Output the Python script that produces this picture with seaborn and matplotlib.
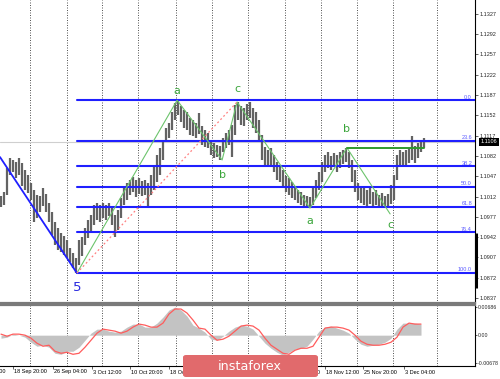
import matplotlib
matplotlib.use("Agg")
import numpy as np
import pandas as pd
import matplotlib.pyplot as plt
import matplotlib.transforms as mtransforms
from matplotlib.patches import FancyBboxPatch
import seaborn as sns

# --- EURUSD H4 price bars (high / low) ---
bar_high = [1.1013, 1.1020, 1.1061, 1.1078, 1.1075, 1.1071, 1.1078, 1.1070, 1.1058, 1.1049,
            1.1035, 1.1023, 1.1015, 1.1013, 1.1027, 1.1016, 1.1001, 1.0985, 1.0968, 1.0958,
            1.0949, 1.0944, 1.0937, 1.0923, 1.0915, 1.0906, 1.0937, 1.0942, 1.0958, 1.0971,
            1.0980, 1.0997, 1.1001, 1.0997, 1.1001, 1.0997, 1.1001, 1.0992, 1.0980, 1.0989,
            1.1009, 1.1027, 1.1035, 1.1040, 1.1046, 1.1040, 1.1044, 1.1039, 1.1040, 1.1035,
            1.1049, 1.1066, 1.1084, 1.1096, 1.1109, 1.1130, 1.1139, 1.1158, 1.1173, 1.1178,
            1.1168, 1.1161, 1.1158, 1.1147, 1.1144, 1.1139, 1.1156, 1.1134, 1.1127, 1.1121,
            1.1109, 1.1104, 1.1101, 1.1099, 1.1113, 1.1121, 1.1127, 1.1135, 1.1170, 1.1175,
            1.1168, 1.1165, 1.1171, 1.1175, 1.1165, 1.1158, 1.1144, 1.1118, 1.1097, 1.1092,
            1.1096, 1.1084, 1.1071, 1.1066, 1.1058, 1.1047, 1.1044, 1.1037, 1.1030, 1.1023,
            1.1020, 1.1015, 1.1013, 1.1011, 1.1027, 1.1040, 1.1054, 1.1071, 1.1084, 1.1089,
            1.1082, 1.1087, 1.1084, 1.1089, 1.1092, 1.1096, 1.1089, 1.1075, 1.1058, 1.1035,
            1.1030, 1.1027, 1.1023, 1.1027, 1.1020, 1.1023, 1.1015, 1.1018, 1.1013, 1.1016,
            1.1032, 1.1049, 1.1084, 1.1092, 1.1089, 1.1092, 1.1096, 1.1116, 1.1099, 1.1104,
            1.1109, 1.1113]
bar_low = [1.0994, 1.0997, 1.1015, 1.1049, 1.1054, 1.1044, 1.1049, 1.1030, 1.1023, 1.1018,
           1.1006, 1.0968, 1.0975, 1.0985, 1.0996, 1.0985, 1.0968, 1.0946, 1.0929, 1.0920,
           1.0916, 1.0911, 1.0906, 1.0899, 1.0889, 1.0880, 1.0894, 1.0909, 1.0929, 1.0940,
           1.0951, 1.0963, 1.0971, 1.0968, 1.0975, 1.0971, 1.0978, 1.0963, 1.0942, 1.0954,
           1.0975, 1.0997, 1.1006, 1.1015, 1.1020, 1.1011, 1.1016, 1.1013, 1.1015, 1.0994,
           1.1015, 1.1023, 1.1037, 1.1049, 1.1075, 1.1106, 1.1113, 1.1127, 1.1144, 1.1153,
           1.1140, 1.1130, 1.1127, 1.1118, 1.1116, 1.1113, 1.1120, 1.1101, 1.1097, 1.1096,
           1.1084, 1.1078, 1.1080, 1.1075, 1.1089, 1.1096, 1.1101, 1.1080, 1.1118, 1.1144,
           1.1135, 1.1134, 1.1144, 1.1147, 1.1130, 1.1121, 1.1109, 1.1075, 1.1066, 1.1063,
           1.1066, 1.1054, 1.1040, 1.1037, 1.1030, 1.1020, 1.1015, 1.1009, 1.1006, 1.1001,
           1.0997, 1.0996, 1.0994, 1.0992, 1.0997, 1.1009, 1.1023, 1.1037, 1.1054, 1.1061,
           1.1058, 1.1063, 1.1054, 1.1061, 1.1068, 1.1071, 1.1061, 1.1037, 1.1020, 1.1006,
           1.1001, 1.0997, 1.0996, 1.0999, 1.0994, 1.0997, 1.0992, 1.0996, 1.0992, 1.0992,
           1.0999, 1.1006, 1.1040, 1.1066, 1.1063, 1.1066, 1.1070, 1.1075, 1.1070, 1.1078,
           1.1089, 1.1096]
last_price = 1.1106

# --- wave marking ---
wave_bar = [25.3, 58.7, 73.7, 78.7, 103.0, 115.3, 129.7]
wave_price = [1.0880, 1.1178, 1.1075, 1.1175, 1.0992, 1.1096, 1.0982]
wave_name = ["5", "a", "b", "c", "a", "b", "c"]
lead_in_bar = -0.33
lead_in_price = 1.1080

# --- fibonacci retracement ---
fib_price = [1.1178, 1.1108, 1.1064, 1.1029, 1.0994, 1.0950, 1.0880]
fib_name = ["0.0", "23.6", "38.2", "50.0", "61.8", "76.4", "100.0"]

price_ticks = [1.0837, 1.0872, 1.0907, 1.0942, 1.0977, 1.1012, 1.1047, 1.1082,
               1.1117, 1.1152, 1.1187, 1.1222, 1.1257, 1.1292, 1.1327]

# --- oscillator (every second bar) ---
osc_hist = [-0.00074, -0.00049, 0.00025, 0.0, -0.00049, -0.00172, -0.00270, -0.00245, -0.00294, -0.00441,
            -0.00466, -0.00392, -0.00392, -0.00294, -0.00123, 0.00049, 0.00147, 0.00147, 0.00098, 0.00074,
            0.00098, 0.00196, 0.00270, 0.00270, 0.00196, 0.00196, 0.00294, 0.00441, 0.00613, 0.00686,
            0.00613, 0.00466, 0.00245, 0.00172, 0.00074, -0.00098, -0.00123, -0.00025, 0.00098, 0.00196,
            0.00245, 0.00221, 0.00147, -0.00025, -0.00196, -0.00319, -0.00417, -0.00490, -0.00417, -0.00343,
            -0.00319, -0.00270, -0.00098, 0.00098, 0.00196, 0.00221, 0.00172, 0.00123, 0.00049, -0.00098,
            -0.00221, -0.00270, -0.00245, -0.00221, -0.00172, -0.00074, 0.00147, 0.00294, 0.00294, 0.00294,
            0.00270]
osc_signal = [0.00025, -0.00025, 0.00025, 0.00025, 0.0, -0.00074, -0.00196, -0.00270, -0.00245, -0.00392,
              -0.00441, -0.00417, -0.00466, -0.00441, -0.00294, -0.00123, 0.00049, 0.00147, 0.00123, 0.00098,
              0.00049, 0.00098, 0.00196, 0.00270, 0.00245, 0.00196, 0.00196, 0.00294, 0.00515, 0.00637,
              0.00637, 0.00539, 0.00368, 0.00172, 0.00147, 0.0, -0.00123, -0.00098, -0.00025, 0.00098,
              0.00221, 0.00245, 0.00221, 0.00123, -0.00074, -0.00245, -0.00343, -0.00441, -0.00466, -0.00368,
              -0.00319, -0.00319, -0.00270, -0.00049, 0.00172, 0.00196, 0.00196, 0.00172, 0.00123, 0.0,
              -0.00147, -0.00221, -0.00245, -0.00245, -0.00221, -0.00172, -0.00049, 0.00196, 0.00294, 0.00270,
              0.00270]
osc_ticks = [0.00686, 0.0, -0.00678]
osc_tick_labels = ["0.00686", "0.00", "-0.00678"]

# --- time axis (labels under the badge are not drawn) ---
time_labels = ["11 Sep 12:00", "18 Sep 20:00", "26 Sep 04:00", "3 Oct 12:00", "10 Oct 20:00",
               "18 Oct 04:00", "11 Nov 04:00", "18 Nov 12:00", "25 Nov 20:00", "3 Dec 04:00"]
time_label_bar = [-9.7, 4.0, 17.3, 30.3, 43.0, 56.0, 95.0, 108.0, 120.7, 134.3]
grid_bar = [9.67, 22.0, 33.67, 45.67, 58.33, 70.33, 82.33, 94.67, 106.67, 118.67, 130.67, 145.33]

bars = np.arange(len(bar_high))
osc_bar = bars[::2]

# --- style ---
sns.set_style("white")
plt.rcParams["font.family"] = ["Liberation Sans", "DejaVu Sans"]

fig = plt.figure(figsize=(5, 3.79), dpi=100)
ax = fig.add_axes([0, 1 - 303 / 379, 475 / 500, 303 / 379])
ax2 = fig.add_axes([0, 1 - 366 / 379, 475 / 500, 61 / 379])

x_lim = (-1 / 3, 158)
grid_style = dict(color="#3a3a3a", lw=0.6, ls=(0, (1.2, 1.8)), zorder=0)
for g in grid_bar:
    ax.axvline(g, **grid_style)
    ax2.axvline(g, **grid_style)

# --- main panel ---
ax.axhline(last_price, color="#cfcfcf", lw=0.8, zorder=1)
ax.vlines(bars, bar_low, bar_high, color="#636363", lw=1.6, zorder=2)

for lvl, name in zip(fib_price, fib_name):
    ax.plot([wave_bar[0], x_lim[1]], [lvl, lvl], color="#1f1fff", lw=1.5, zorder=3)
    ax.text(157, lvl + 0.00012, name, ha="right", va="bottom", fontsize=4, color="#5a5aff", zorder=6)

waves = pd.DataFrame({"bar": wave_bar, "price": wave_price})
sns.lineplot(data=waves, x="bar", y="price", sort=False, color="#6cc46c", lw=0.8, ax=ax, zorder=4)
ax.plot([lead_in_bar, wave_bar[0]], [lead_in_price, wave_price[0]], color="#1f1fff", lw=1.3, zorder=4)
ax.plot([wave_bar[0], wave_bar[3]], [wave_price[0], wave_price[3]],
        color="#ff8080", lw=0.9, ls=(0, (1.5, 2)), zorder=4)
ax.plot([wave_bar[5], bars[-1]], [wave_price[5], wave_price[5]], color="#2f9a2f", lw=1.4, zorder=5)

label_dy = [-14, 9, -15, 13, -13, 19, -11]
for b, p, n, dy in zip(wave_bar, wave_price, wave_name, label_dy):
    is_five = n == "5"
    ax.annotate(n, (b, p), xytext=(0, dy), textcoords="offset pixels", ha="center", va="center",
                fontsize=9.5 if is_five else 8, color="#2a2ae0" if is_five else "#3aa53a",
                family="DejaVu Sans", zorder=6)

ax.set_xlim(*x_lim)
ax.set_ylim(1.08284, 1.13508)
ax.yaxis.tick_right()
ax.set_yticks(price_ticks)
ax.set_yticklabels([f"{v:.4f}" for v in price_ticks])
ax.tick_params(axis="y", labelsize=4, length=2, width=0.5, pad=1.5, right=True, left=False)
ax.set_xticks([])
ax.set_xlabel("")
ax.set_ylabel("")
ax.spines["top"].set_visible(False)
ax.spines["left"].set_visible(False)
ax.spines["bottom"].set_color("#7a7a7a")
ax.spines["bottom"].set_linewidth(1.6)
ax.spines["right"].set_color("black")
ax.spines["right"].set_linewidth(0.8)

# current price box and scroll marker
price_tr = mtransforms.blended_transform_factory(ax.transAxes, ax.transData)
ax.text(1.012, last_price, f"{last_price:.4f}", transform=price_tr, ha="left", va="center",
        fontsize=4, color="white", bbox=dict(facecolor="black", edgecolor="none", pad=1.2), zorder=7)
ax.plot([1.002, 1.002], [0.05, 0.231], transform=ax.transAxes, color="black", lw=2.2,
        clip_on=False, solid_capstyle="butt")

# --- oscillator panel ---
ax2.fill_between(osc_bar, 0, osc_hist, color="#c3c3c3", lw=0, zorder=1)
sns.lineplot(x=osc_bar, y=osc_signal, color="#ff5c5c", lw=0.9, ax=ax2, zorder=2)
ax2.set_xlim(*x_lim)
ax2.set_ylim(-0.00751, 0.00735)
ax2.yaxis.tick_right()
ax2.set_yticks(osc_ticks)
ax2.set_yticklabels(osc_tick_labels)
ax2.tick_params(axis="y", labelsize=3.8, length=1.5, width=0.5, pad=0.8, right=True, left=False)
ax2.set_xticks([t for t in time_label_bar if t > x_lim[0]])
ax2.set_xticklabels([])
ax2.tick_params(axis="x", length=2, width=0.5, bottom=True)
time_tr = mtransforms.blended_transform_factory(ax2.transData, ax2.transAxes)
for t, lab in zip(time_label_bar, time_labels):
    ax2.annotate(lab, (t, 0), xycoords=time_tr, xytext=(1, -6), textcoords="offset pixels",
                 ha="left", va="center", fontsize=4, color="black", annotation_clip=False)
ax2.set_xlabel("")
ax2.set_ylabel("")
ax2.spines["left"].set_visible(False)
ax2.spines["top"].set_color("#7a7a7a")
ax2.spines["top"].set_linewidth(1.6)
ax2.spines["bottom"].set_color("black")
ax2.spines["bottom"].set_linewidth(0.8)
ax2.spines["right"].set_color("black")
ax2.spines["right"].set_linewidth(0.8)

# --- watermark badge ---
badge = FancyBboxPatch((183 / 500, 2 / 379), 135 / 500, 22 / 379, boxstyle="round,pad=0,rounding_size=0.006",
                       transform=fig.transFigure, facecolor="#e16a6c", edgecolor="none", zorder=10)
fig.add_artist(badge)
fig.text(0.5, 1 - 367 / 379, "instaforex", ha="center", va="center", fontsize=9.2,
         color="white", family="DejaVu Sans", zorder=11)

fig.savefig("out.png", dpi=100)
